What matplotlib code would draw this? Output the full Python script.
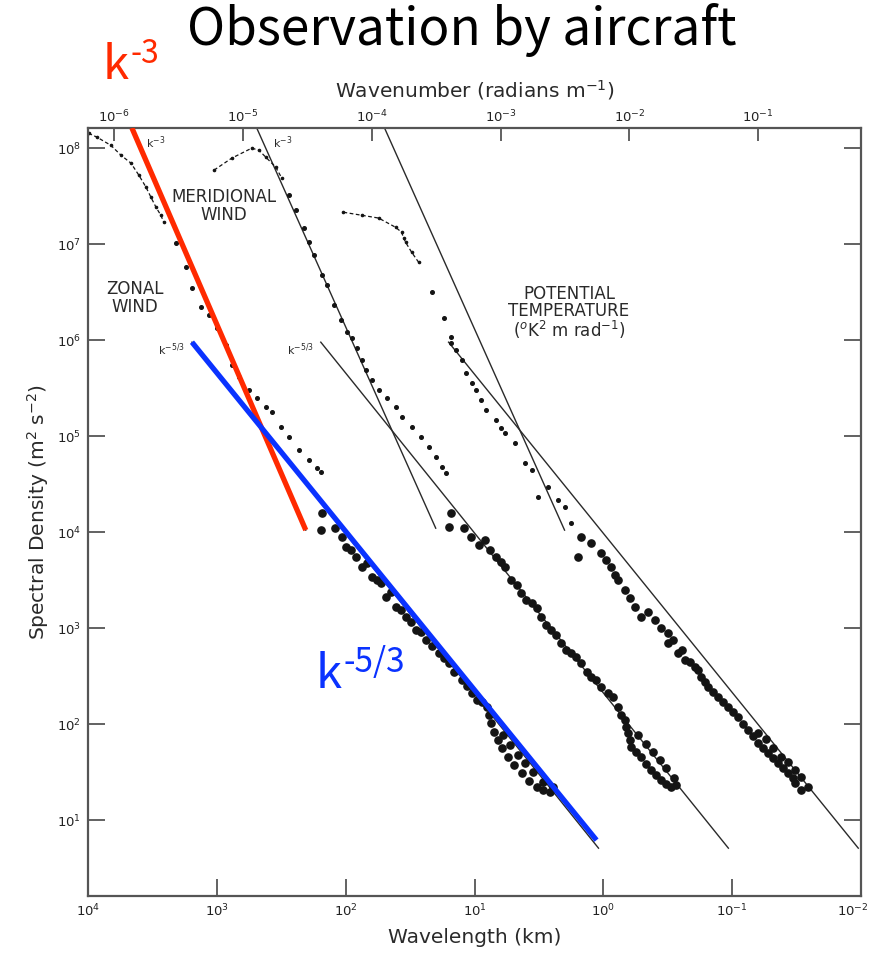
import numpy as np
import matplotlib.pyplot as plt
import matplotlib.transforms as mtransforms
from matplotlib.ticker import NullLocator

# spectra: wavelength (km) and spectral density
zonal_dash_wl = [9900, 8510, 6640, 5550, 4640, 4030, 3550, 3250, 2970, 2720, 2580]
zonal_dash_sd = [1.43e8, 1.30e8, 1.07e8, 8.45e7, 6.98e7, 5.23e7, 3.93e7, 3.09e7, 2.43e7, 2.00e7, 1.69e7]
zonal_dot_wl = [2080, 1740, 1560, 1330, 1150, 1000, 851, 766, 675, 565, 490, 417, 375, 319, 277, 231, 194, 168, 156]
zonal_dot_sd = [1.02e7, 5.75e6, 3.48e6, 2.21e6, 1.82e6, 1.33e6, 8.87e5, 5.50e5, 4.12e5, 3.01e5,
                2.49e5, 2.00e5, 1.78e5, 1.24e5, 9.77e4, 7.15e4, 5.62e4, 4.64e4, 4.22e4]
zonal_meso_wl = [153, 156, 120, 107, 100, 91.4, 83.6, 75.1, 68.7, 62.8, 57.5, 53.5, 49.0, 44.8, 41.0,
                 37.5, 34.3, 31.3, 28.7, 26.2, 24.0, 21.5, 19.0, 17.4, 15.9, 14.3, 12.6, 11.5, 10.5,
                 9.48, 8.67, 7.93, 7.66, 7.38, 7.00, 6.52, 6.07, 5.45, 4.90, 4.25, 3.75, 3.30, 2.92,
                 2.58, 2.44, 2.92, 3.49, 4.03, 4.56, 5.26, 5.96]
zonal_meso_sd = [1.58e4, 1.05e4, 1.10e4, 8.87e3, 6.98e3, 6.49e3, 5.50e3, 4.32e3, 4.75e3, 3.40e3, 3.16e3,
                 2.94e3, 2.10e3, 2.37e3, 1.66e3, 1.54e3, 1.30e3, 1.15e3, 953, 908, 750, 649, 550, 487,
                 432, 348, 287, 249, 210, 178, 169, 150, 124, 102, 82.6, 68.1, 56.2, 45.3, 37.4, 30.9,
                 25.5, 22.1, 20.5, 19.6, 22.1, 24.9, 31.6, 39.3, 47.5, 60.4, 76.7]

mer_dash_wl = [1050, 766, 536, 472, 417, 349, 313]
mer_dash_sd = [5.91e7, 7.87e7, 1.00e8, 9.53e7, 8.06e7, 6.34e7, 4.87e7]
mer_dot_wl = [277, 244, 212, 194, 177, 153, 140, 124, 109, 98.2, 89.8, 82.2, 75.1, 70.0, 62.8, 55.5,
              48.1, 41.0, 36.8, 30.8, 26.2, 22.7, 20.0, 18.0, 16.5]
mer_dot_sd = [3.24e7, 2.26e7, 1.47e7, 1.05e7, 7.67e6, 4.75e6, 3.74e6, 2.32e6, 1.61e6, 1.21e6, 1.05e6,
              8.26e5, 6.19e5, 4.87e5, 3.83e5, 3.01e5, 2.49e5, 2.00e5, 1.58e5, 1.24e5, 9.77e4, 7.67e4,
              6.04e4, 4.75e4, 4.12e4]
mer_meso_wl = [15.3, 15.9, 12.0, 10.7, 9.31, 8.22, 7.52, 6.87, 6.28, 5.75, 5.17, 4.72, 4.32, 3.95, 3.61,
               3.30, 3.03, 2.77, 2.53, 2.31, 2.12, 1.94, 1.77, 1.62, 1.48, 1.35, 1.24, 1.13, 1.04,
               0.915, 0.836, 0.766, 0.724, 0.675, 0.663, 0.640, 0.618, 0.607, 0.555, 0.507, 0.464,
               0.425, 0.388, 0.355, 0.325, 0.297, 0.272, 0.282, 0.325, 0.361, 0.409, 0.464, 0.536]
mer_meso_sd = [1.58e4, 1.13e4, 1.10e4, 8.87e3, 7.33e3, 8.26e3, 6.49e3, 5.50e3, 4.87e3, 4.32e3, 3.16e3,
               2.81e3, 2.32e3, 1.96e3, 1.82e3, 1.62e3, 1.30e3, 1.07e3, 953, 845, 698, 590, 550, 499,
               432, 348, 309, 287, 243, 210, 191, 150, 124, 110, 93.0, 80.5, 68.1, 57.5, 51.1, 45.3,
               38.3, 33.2, 29.4, 26.1, 23.7, 22.1, 23.2, 27.4, 34.8, 42.2, 51.1, 61.9, 76.7]

pt_dash_wl = [104, 75.1, 55.5, 41.0, 36.8, 35.5, 34.3, 30.8, 27.2]
pt_dash_sd = [2.15e7, 2.00e7, 1.87e7, 1.50e7, 1.33e7, 1.16e7, 1.05e7, 8.26e6, 6.50e6]
pt_dot_wl = [21.5, 17.4, 15.1, 15.3, 14.0, 12.6, 11.7, 10.5, 9.82, 8.83, 8.07, 6.87, 6.18, 5.75, 4.81,
             4.03, 3.61, 3.19, 2.67, 2.23, 1.97, 1.77]
pt_dot_sd = [3.16e6, 1.69e6, 1.07e6, 9.31e5, 7.87e5, 6.19e5, 4.53e5, 3.56e5, 3.01e5, 2.37e5, 1.87e5,
             1.47e5, 1.21e5, 1.07e5, 8.45e4, 5.24e4, 4.43e4, 2.32e4, 2.94e4, 2.15e4, 1.82e4, 1.24e4]
pt_meso_wl = [1.56, 1.48, 1.24, 1.04, 0.948, 0.867, 0.807, 0.766, 0.675, 0.618, 0.565, 0.507, 0.448,
              0.395, 0.355, 0.313, 0.313, 0.287, 0.262, 0.244, 0.231, 0.212, 0.194, 0.184, 0.174,
              0.162, 0.153, 0.140, 0.128, 0.117, 0.107, 0.0982, 0.0898, 0.0822, 0.0752, 0.0687,
              0.0628, 0.0575, 0.0526, 0.0481, 0.0440, 0.0403, 0.0368, 0.0337, 0.0325, 0.0292,
              0.0258, 0.0292, 0.0325, 0.0368, 0.0417, 0.0481, 0.0545, 0.0628]
pt_meso_sd = [5.50e3, 8.87e3, 7.67e3, 6.04e3, 5.10e3, 4.32e3, 3.56e3, 3.16e3, 2.49e3, 2.05e3, 1.66e3,
              1.30e3, 1.47e3, 1.21e3, 1.00e3, 887, 698, 750, 550, 590, 465, 443, 393, 365, 309, 274,
              243, 215, 191, 169, 150, 133, 118, 100, 86.7, 75.0, 63.4, 56.2, 49.9, 44.2, 39.3, 34.8,
              30.9, 27.4, 24.3, 20.5, 22.1, 28.1, 33.2, 40.2, 45.3, 56.2, 69.8, 80.5]

# power-law reference lines, end points (wavelength km, density)
k3_zonal = ([4560, 204], [1.62e8, 1.05e4])
k3_mer = ([490, 20.0], [1.62e8, 1.10e4])
k3_pt = ([49.9, 2.00], [1.62e8, 1.05e4])
k53_zonal = ([1560, 1.09], [9.53e5, 5.11])
k53_mer = ([156, 0.107], [9.53e5, 5.11])
k53_pt = ([15.9, 0.0105], [9.53e5, 5.11])
red_k3 = ([4560, 204], [1.62e8, 1.05e4])
blue_k53 = ([1560, 1.13], [9.53e5, 6.19])

wl_ticks = [1e4, 1e3, 1e2, 1e1, 1e0, 1e-1, 1e-2]
k_ticks = [1e-6, 1e-5, 1e-4, 1e-3, 1e-2, 1e-1]
sd_ticks = [1e1, 1e2, 1e3, 1e4, 1e5, 1e6, 1e7, 1e8]

W, H = 880, 955
fig = plt.figure(figsize=(W / 100, H / 100), dpi=100)
ax = fig.add_axes([88 / W, 1 - 896 / H, (861 - 88) / W, (896 - 128) / H])
ax.set_xscale('log')
ax.set_yscale('log')
ax.set_xlim(1e4, 1e-2)
ax.set_ylim(10 ** 0.21, 10 ** 8.21)

ink = '#141414'
for line in (k3_zonal, k3_mer, k3_pt, k53_zonal, k53_mer, k53_pt):
    ax.plot(line[0], line[1], color='#2a2a2a', lw=1.0)

for wl, sd in ((zonal_dash_wl, zonal_dash_sd), (mer_dash_wl, mer_dash_sd), (pt_dash_wl, pt_dash_sd)):
    ax.plot(wl, sd, ls=(0, (3, 2)), color=ink, lw=0.9, marker='o', ms=1.6)
for wl, sd in ((zonal_dot_wl, zonal_dot_sd), (mer_dot_wl, mer_dot_sd), (pt_dot_wl, pt_dot_sd)):
    ax.plot(wl, sd, ls='none', color=ink, marker='o', ms=2.6)
for wl, sd in ((zonal_meso_wl, zonal_meso_sd), (mer_meso_wl, mer_meso_sd), (pt_meso_wl, pt_meso_sd)):
    ax.plot(wl, sd, ls='none', color=ink, marker='o', ms=5.2)

ax.plot(red_k3[0], red_k3[1], color='#ff2a00', lw=3.8, solid_capstyle='butt', zorder=5)
ax.plot(blue_k53[0], blue_k53[1], color='#0a32ff', lw=3.8, solid_capstyle='butt', zorder=5)

# axes styling, ticks pointing inward on every side
for sp in ax.spines.values():
    sp.set_color('#555555')
    sp.set_linewidth(1.6)
ax.set_xticks(wl_ticks)
ax.set_yticks(sd_ticks)
ax.xaxis.set_minor_locator(NullLocator())
ax.yaxis.set_minor_locator(NullLocator())
ax.tick_params(which='major', direction='in', length=12, width=1.3, color='#555555',
               labelcolor='#222222', labelsize=9.5, right=True, pad=5)

sec = ax.secondary_xaxis('top', functions=(lambda l: 2 * np.pi / (np.asarray(l) * 1000.0),
                                            lambda k: 2 * np.pi / (np.asarray(k) * 1000.0)))
sec.set_xticks(k_ticks)
sec.xaxis.set_minor_locator(NullLocator())
sec.tick_params(direction='in', length=9, width=1.3, color='#555555', labelcolor='#222222',
                labelsize=9.5, pad=2)
sec.spines['top'].set_visible(False)

lab = dict(family='DejaVu Sans', color='#2a2a2a', fontsize=14.5)
ax.set_xlabel('Wavelength (km)', labelpad=6, **lab)
sec.set_xlabel('Wavenumber (radians m$^{-1}$)', labelpad=8, **lab)
ax.set_ylabel('Spectral Density (m$^{2}$ s$^{-2}$)', labelpad=4, **lab)

# keep the right-most wavelength label inside the canvas
last = ax.xaxis.get_major_ticks()[-1].label1
last.set_transform(last.get_transform() + mtransforms.ScaledTranslation(-6 / 72, 0, fig.dpi_scale_trans))


def px(x, y):
    return x / W, 1 - y / H


small = dict(family='DejaVu Sans', color='#2a2a2a', fontsize=12, ha='center', va='center',
             linespacing=0.95)
fig.text(*px(135, 298), 'ZONAL\nWIND', **small)
fig.text(*px(224, 206), 'MERIDIONAL\nWIND', **small)
fig.text(*px(569, 313), 'POTENTIAL\nTEMPERATURE\n($^{o}$K$^{2}$ m rad$^{-1}$)', **small)
tiny = dict(family='DejaVu Sans', color='#2a2a2a', fontsize=8, ha='left', va='center')
fig.text(*px(146, 143), 'k$^{-3}$', **tiny)
fig.text(*px(273, 143), 'k$^{-3}$', **tiny)
fig.text(*px(158, 350), 'k$^{-5/3}$', **tiny)
fig.text(*px(287, 350), 'k$^{-5/3}$', **tiny)

jp = ['Noto Sans CJK JP', 'DejaVu Sans']
fig.text(*px(462, 30), 'Observation by aircraft', family=jp, fontsize=37, ha='center', va='center',
         color='black')
fig.text(*px(103, 66), 'k', family=jp, fontsize=34, ha='left', va='center', color='#ff2a00')
fig.text(*px(130, 54), '-3', family=jp, fontsize=23, ha='left', va='center', color='#ff2a00')
fig.text(*px(316, 675), 'k', family=jp, fontsize=34, ha='left', va='center', color='#0a32ff')
fig.text(*px(343, 662), '-5/3', family=jp, fontsize=24, ha='left', va='center', color='#0a32ff')

fig.savefig('out.png', dpi=100)
